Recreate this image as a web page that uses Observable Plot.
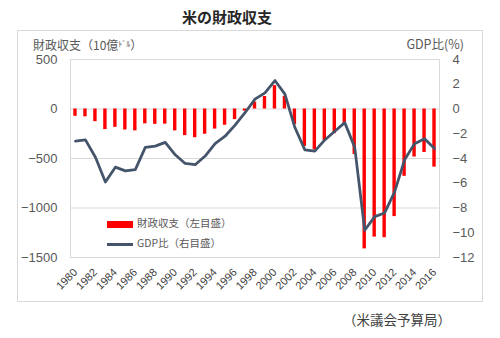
<!DOCTYPE html>
<html>
<head>
<meta charset="utf-8">
<script src="https://cdn.jsdelivr.net/npm/d3@7"></script>
<script src="https://cdn.jsdelivr.net/npm/@observablehq/plot@0.6"></script>
<style>
  body { margin: 0; background: #fff; }
  #root { position: relative; width: 500px; height: 338px; font-family: "Noto Sans CJK JP", "Liberation Sans", sans-serif; color: #595959; }
  #title { position: absolute; left: 0; top: 8px; width: 454px; text-align: center; font-size: 15px; line-height: 18px; font-weight: bold; color: #262626; }
  #box { position: absolute; left: 17px; top: 30px; width: 464px; height: 270px; border: 1px solid #d9d9d9; }
  #box svg { position: absolute; left: 0; top: 0; }
  .axt { position: absolute; font-size: 12px; line-height: 14px; color: #595959; white-space: nowrap; }
  .leg { position: absolute; font-size: 10.5px; line-height: 12px; color: #595959; white-space: nowrap; }
  #caption { position: absolute; left: 343px; top: 311px; font-size: 13.5px; line-height: 16px; color: #404040; white-space: nowrap; }
</style>
</head>
<body>
<div id="root">
  <div id="title">米の財政収支</div>
  <div id="box">
    <div class="axt" style="left:15px;top:6px;">財政収支（10億<span style="font-size:8px;vertical-align:3px;">ﾄﾞﾙ</span>）</div>
    <div class="axt" style="right:18px;top:6px;font-size:12.5px;">GDP比(%)</div>
    <div class="leg" style="left:89px;top:186px;"><span style="display:inline-block;width:26px;height:7px;background:#FF0000;vertical-align:middle;margin-right:4px;"></span>財政収支（左目盛）</div>
    <div class="leg" style="left:89px;top:206px;"><span style="display:inline-block;width:26px;height:3px;background:#44546A;vertical-align:middle;margin-right:4px;"></span>GDP比（右目盛）</div>
  </div>
  <div id="caption">（米議会予算局）</div>
</div>
<script>
const years = [1980,1981,1982,1983,1984,1985,1986,1987,1988,1989,1990,1991,1992,1993,1994,1995,1996,1997,1998,1999,2000,2001,2002,2003,2004,2005,2006,2007,2008,2009,2010,2011,2012,2013,2014,2015,2016];
const balance = [-74,-79,-128,-208,-185,-212,-221,-150,-155,-153,-221,-269,-290,-255,-203,-164,-107,-22,69,126,236,128,-158,-378,-413,-318,-248,-161,-459,-1413,-1294,-1300,-1087,-680,-485,-439,-587];
const gdpRatio = [-2.6,-2.5,-3.9,-5.9,-4.7,-5.0,-4.9,-3.1,-3.0,-2.7,-3.7,-4.4,-4.5,-3.8,-2.8,-2.2,-1.3,-0.3,0.8,1.3,2.3,1.2,-1.5,-3.3,-3.4,-2.5,-1.8,-1.1,-3.1,-9.8,-8.7,-8.4,-6.7,-4.1,-2.8,-2.4,-3.2];
const leftTicks = [500, 0, -500, -1000, -1500];
const rightTicks = [4, 2, 0, -2, -4, -6, -8, -10, -12];
const xTickYears = [1980,1982,1984,1986,1988,1990,1992,1994,1996,1998,2000,2002,2004,2006,2008,2010,2012,2014,2016];

const scaleRatio = 500 / 4; // right axis (%) -> left axis units
const data = years.map((y, i) => ({year: y, balance: balance[i], gdp: gdpRatio[i]}));
const minus = v => (v < 0 ? "\u2212" + Math.abs(v) : String(v));

const chart = Plot.plot({
  width: 464,
  height: 270,
  marginLeft: 52,
  marginRight: 43,
  marginTop: 28,
  marginBottom: 44,
  style: {fontFamily: "'Liberation Sans', Arial, sans-serif", fontSize: "13px", color: "#595959", background: "transparent"},
  x: {type: "linear", domain: [1979.5, 2016.5]},
  y: {domain: [-1500, 500]},
  marks: [
    Plot.gridY({ticks: [0, -500, -1000], stroke: "#d9d9d9", strokeOpacity: 1}),
    Plot.frame({stroke: "#d9d9d9"}),
    Plot.rect(data, {x1: d => d.year - 0.17, x2: d => d.year + 0.17, y1: 0, y2: "balance", fill: "#FF0000"}),
    Plot.line(data, {x: "year", y: d => d.gdp * scaleRatio, stroke: "#44546A", strokeWidth: 2.75, strokeLinejoin: "round"}),
    Plot.axisY({anchor: "left", ticks: leftTicks, tickSize: 0, tickPadding: 13, tickFormat: minus, label: null, fontSize: 13}),
    Plot.axisY({anchor: "right", ticks: rightTicks.map(v => v * scaleRatio), tickSize: 0, tickPadding: 13, tickFormat: d => minus(Math.round(d / scaleRatio)), label: null, fontSize: 13}),
    Plot.axisX({ticks: xTickYears, tickSize: 0, tickPadding: 13, tickRotate: -45, tickFormat: d => String(d), label: null, fontSize: 11, fill: "#404040"})
  ]
});
document.getElementById("box").prepend(chart);
</script>
</body>
</html>
